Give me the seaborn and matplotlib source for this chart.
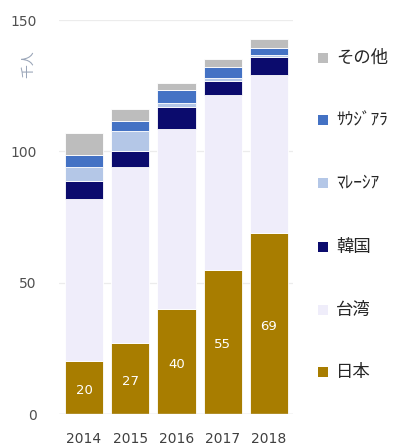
import matplotlib
matplotlib.use("Agg")
import matplotlib.pyplot as plt
from matplotlib.patches import Rectangle
import numpy as np
import pandas as pd
import seaborn as sns

# Visitors by country of origin (thousand people), stacked bottom to top
years = ["2014", "2015", "2016", "2017", "2018"]
japan = [20, 27, 40, 55, 69]
taiwan = [61.8, 67.0, 68.6, 66.4, 60.0]
korea = [6.8, 6.1, 8.2, 5.5, 6.9]
malaysia = [5.4, 7.7, 1.5, 1.2, 0.7]
saudi = [4.5, 3.7, 4.9, 4.1, 2.6]
other = [8.4, 4.6, 2.8, 2.9, 3.7]

series_names = ["日本", "台湾", "韓国", "ﾏﾚｰｼｱ", "ｻｳｼﾞｱﾗ", "その他"]
series_values = [japan, taiwan, korea, malaysia, saudi, other]
series_colors = ["#a87d00", "#efedfa", "#0b0b6d", "#b4c7e7", "#4472c4", "#bdbdbd"]

sns.set_theme(style="white")
plt.rcParams["font.family"] = ["Noto Sans CJK JP", "DejaVu Sans"]

W, H = 394, 448
fig = plt.figure(figsize=(W / 100, H / 100), dpi=100)
ax = fig.add_axes([59 / W, 1 - 414 / H, 234 / W, 394 / H])

df = pd.DataFrame({"year": years})
bottom = np.zeros(len(years))
for name, vals, col in zip(series_names, series_values, series_colors):
    df[name] = vals
    sns.barplot(data=df, x="year", y=name, color=col, bottom=bottom,
                width=0.83, edgecolor="white", linewidth=0.6, ax=ax,
                saturation=1, zorder=3)
    bottom = bottom + np.asarray(vals)

# value labels inside the bottom segment
for i, v in enumerate(japan):
    ax.text(i, v / 2 - 1.2, f"{v:d}", ha="center", va="center",
            color="white", fontsize=9.5, family="DejaVu Sans", zorder=5)

ax.set_ylim(0, 150)
ax.set_xlim(-0.54, 4.52)
ax.set_yticks([0, 50, 100, 150])
ax.set_xlabel("")
ax.set_ylabel("")
ax.yaxis.grid(True, color="#ececec", linewidth=0.9, zorder=0)
ax.axhline(0, color="#d9d9d9", linewidth=1.0, zorder=4)
for s in ax.spines.values():
    s.set_visible(False)
ax.tick_params(axis="y", labelsize=10, labelcolor="#505050", length=0, pad=16)
ax.tick_params(axis="x", labelsize=10, labelcolor="#404040", length=0, pad=13)
for lab in ax.get_xticklabels() + ax.get_yticklabels():
    lab.set_family("DejaVu Sans")

fig.text(28 / W, 1 - 64 / H, "千人", rotation=90, ha="center", va="center",
         fontsize=10, color="#9aa5b8")

# legend column, listed top to bottom in reverse stacking order
legend_y = [58, 120, 183, 247, 310, 372]
for y, name, col in zip(legend_y, series_names[::-1], series_colors[::-1]):
    fig.add_artist(Rectangle((318 / W, 1 - (y + 5) / H), 10 / W, 10 / H,
                             transform=fig.transFigure, facecolor=col,
                             edgecolor="none"))
    fig.text(336 / W, 1 - y / H, name, ha="left", va="center",
             fontsize=12.5, color="#262626")

fig.savefig("out.png", dpi=100)
